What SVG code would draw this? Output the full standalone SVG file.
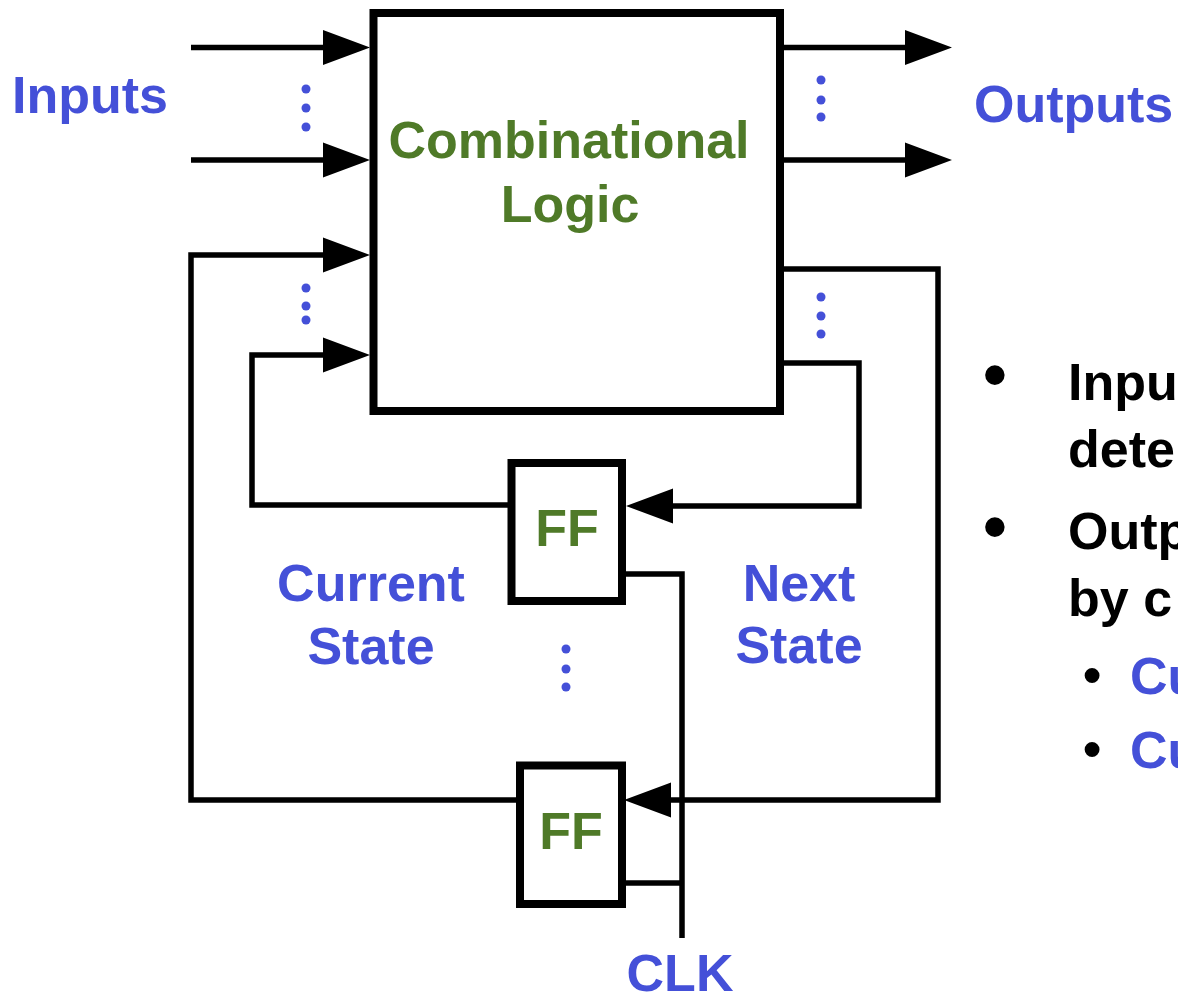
<svg xmlns="http://www.w3.org/2000/svg" width="1178" height="995" viewBox="0 0 1178 995">
<defs>
<style>
text{font-family:"Liberation Sans",Arial,Helvetica,sans-serif;font-weight:bold;font-size:52px}
.blue{fill:#4450d8}
.green{fill:#4f7a28}
.black{fill:#000}
.mid{text-anchor:middle}
.box{fill:#fff;stroke:#000;stroke-width:8}
.wire{fill:none;stroke:#000;stroke-width:5.5;stroke-linejoin:miter;stroke-linecap:square}
.arrow{marker-end:url(#ah)}
.dot{fill:#4450d8}
</style>
<marker id="ah" viewBox="0 -18 48 36" markerWidth="48" markerHeight="36" refX="0" refY="0" markerUnits="userSpaceOnUse" orient="auto" overflow="visible">
<path d="M0,-17.5 L47,0 L0,17.5 Z" fill="#000"/>
</marker>
</defs>
<g id="connectors">
<line class="wire arrow" x1="191" y1="47.5" x2="323" y2="47.5" style="stroke-linecap:butt"/>
<line class="wire arrow" x1="191" y1="160" x2="323" y2="160" style="stroke-linecap:butt"/>
<line class="wire arrow" x1="784" y1="47.5" x2="905" y2="47.5" style="stroke-linecap:butt"/>
<line class="wire arrow" x1="784" y1="160" x2="905" y2="160" style="stroke-linecap:butt"/>
<polyline class="wire arrow" points="516,800 191,800 191,255 323,255" style="stroke-linecap:butt"/>
<polyline class="wire arrow" points="511,505 252,505 252,355 323,355" style="stroke-linecap:butt"/>
<polyline class="wire arrow" points="784,269 938,269 938,800 671,800" style="stroke-linecap:butt"/>
<polyline class="wire arrow" points="784,363 859,363 859,506 673,506" style="stroke-linecap:butt"/>
<polyline class="wire" points="626,574 682,574 682,938" style="stroke-linecap:butt"/>
<line class="wire" x1="626" y1="883" x2="682" y2="883" style="stroke-linecap:butt"/>
</g>
<g id="combinational-logic">
<rect class="box" x="373.5" y="13" width="406.5" height="398"/>
<text class="green mid" x="569" y="158">Combinational</text>
<text class="green mid" x="570" y="222">Logic</text>
</g>
<g id="ff1">
<rect class="box" x="511.5" y="463" width="110.5" height="138"/>
<text class="green mid" x="567" y="546">FF</text>
</g>
<g id="ff2">
<rect class="box" x="520" y="765.5" width="102" height="138.5"/>
<text class="green mid" x="571" y="849">FF</text>
</g>
<g id="inputs-label">
<text class="blue" x="12" y="113">Inputs</text>
</g>
<g id="outputs-label">
<text class="blue" x="974" y="122">Outputs</text>
</g>
<g id="current-state-label">
<text class="blue mid" x="371" y="601">Current</text>
<text class="blue mid" x="371" y="664">State</text>
</g>
<g id="next-state-label">
<text class="blue mid" x="799" y="601">Next</text>
<text class="blue mid" x="799" y="663">State</text>
</g>
<g id="clk-label">
<text class="blue mid" x="680" y="991">CLK</text>
</g>
<g id="ellipses">
<circle class="dot" cx="306" cy="89" r="4.5"/>
<circle class="dot" cx="306" cy="108" r="4.5"/>
<circle class="dot" cx="306" cy="127" r="4.5"/>
<circle class="dot" cx="306" cy="288" r="4.5"/>
<circle class="dot" cx="306" cy="306" r="4.5"/>
<circle class="dot" cx="306" cy="320" r="4.5"/>
<circle class="dot" cx="821" cy="80" r="4.5"/>
<circle class="dot" cx="821" cy="100" r="4.5"/>
<circle class="dot" cx="821" cy="117" r="4.5"/>
<circle class="dot" cx="821" cy="297" r="4.5"/>
<circle class="dot" cx="821" cy="316" r="4.5"/>
<circle class="dot" cx="821" cy="334" r="4.5"/>
<circle class="dot" cx="566" cy="649" r="4.5"/>
<circle class="dot" cx="566" cy="669" r="4.5"/>
<circle class="dot" cx="566" cy="687" r="4.5"/>
</g>
<g id="bullets">
<text class="black" x="983" y="398" style="font-size:68px">•</text>
<text class="black" x="1068" y="400">Inpu</text>
<text class="black" x="1068" y="467">dete</text>
<text class="black" x="983" y="550" style="font-size:68px">•</text>
<text class="black" x="1068" y="549">Outp</text>
<text class="black" x="1068" y="616">by c</text>
<text class="black" x="1083" y="693" style="font-size:52px">•</text>
<text class="blue" x="1130" y="694">Cu</text>
<text class="black" x="1083" y="767" style="font-size:52px">•</text>
<text class="blue" x="1130" y="768">Cu</text>
</g>
</svg>
